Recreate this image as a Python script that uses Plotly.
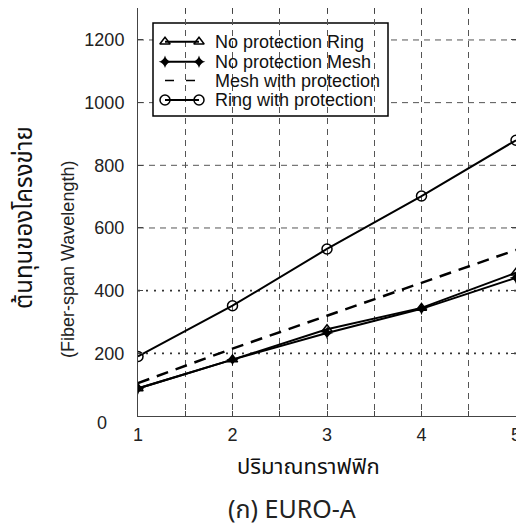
import plotly.graph_objects as go

# ---- data ----
traffic = [1, 2, 3, 4, 5]
no_prot_ring = [88, 180, 277, 345, 457]
no_prot_mesh = [88, 180, 265, 342, 441]
mesh_with_prot = [105, 215, 320, 425, 530]
ring_with_prot = [190, 352, 533, 702, 880]

x_tickvals = [1, 1.5, 2, 2.5, 3, 3.5, 4, 4.5, 5]
x_ticktext = ["1", "", "2", "", "3", "", "4", "", "5"]
y_tickvals = [0, 200, 400, 600, 800, 1000, 1200]
y_ticktext = ["0", "200", "400", "600", "800", "1000", "1200"]
dashed_levels = [600, 800, 1000, 1200]
dotted_levels = [200, 400]

legend_names = ["No protection Ring", "No protection Mesh",
                "Mesh with protection", "Ring with protection"]

FONT = "Liberation Sans, Arial, sans-serif"
THAI_FONT = "Tahoma, Noto Sans Thai, Loma, Garuda, sans-serif"

# page body has an 8px margin; figure is sized so it ends at the window edge
OFF = 8
W, H = 524 - OFF, 531 - OFF
# plot-area edges in window pixels
PX0, PX1, PY0, PY1 = 138, 516, 8, 416

def fx(px):
    return (px - PX0) / (PX1 - PX0)

def fy(py):
    return (PY1 - py) / (PY1 - PY0)

fig = go.Figure()

styles = [
    dict(line=dict(color="black", width=2), marker=dict(symbol="triangle-up-open", size=9, color="black", line=dict(width=1.5)), mode="lines+markers"),
    dict(line=dict(color="black", width=2), marker=dict(symbol="star-diamond", size=9, color="black"), mode="lines+markers"),
    dict(line=dict(color="black", width=2.5, dash="12px,8px"), mode="lines"),
    dict(line=dict(color="black", width=2), marker=dict(symbol="circle-open", size=10, color="black", line=dict(width=1.5)), mode="lines+markers"),
]
series = [no_prot_ring, no_prot_mesh, mesh_with_prot, ring_with_prot]

for name, vals, st in zip(legend_names, series, styles):
    fig.add_trace(go.Scatter(x=traffic, y=vals, name=name, showlegend=False, **st))

# ---- custom legend (markers at both ends of the sample line) ----
row_y = [41.7, 61.7, 80.5, 100]
for name, st, ry in zip(legend_names, styles, row_y):
    kw = dict(st)
    if name == "Mesh with protection":
        kw = dict(mode="lines", line=dict(color="black", width=1.5, dash="9px,12px"))
    fig.add_trace(go.Scatter(x=[fx(165), fx(199)], y=[fy(ry), fy(ry)], xaxis="x2", yaxis="y2",
                             showlegend=False, hoverinfo="skip", **kw))
    fig.add_annotation(x=fx(213), y=fy(ry), xref="paper", yref="paper", text=name,
                       showarrow=False, xanchor="left", yanchor="middle",
                       font=dict(family=FONT, size=18, color="#111"))

shapes = []
for lv in dashed_levels:
    shapes.append(dict(type="line", xref="paper", yref="y", x0=0, x1=1, y0=lv, y1=lv,
                       line=dict(color="#555", width=1, dash="6px,5px"), layer="between"))
for lv in dotted_levels:
    shapes.append(dict(type="line", xref="paper", yref="y", x0=0, x1=1, y0=lv, y1=lv,
                       line=dict(color="#333", width=1.8, dash="2px,6px"), layer="between"))
shapes.append(dict(type="rect", xref="paper", yref="paper", x0=fx(153), x1=fx(388), y0=fy(116), y1=fy(23),
                   fillcolor="white", line=dict(color="black", width=1.5), layer="between"))

# the "0" label sits further left in the reference; drawn separately
y_ticktext_axis = [""] + y_ticktext[1:]

fig.update_layout(
    width=W, height=H,
    margin=dict(l=PX0 - OFF, r=524 - PX1, t=PY0 - OFF, b=531 - PY1, pad=0),
    paper_bgcolor="white", plot_bgcolor="white",
    font=dict(family=FONT, size=18, color="#222"),
    shapes=shapes,
    xaxis=dict(range=[1, 5], tickvals=x_tickvals, ticktext=x_ticktext,
               showgrid=True, gridcolor="#555", gridwidth=1, griddash="6px,5px",
               ticks="inside", ticklen=5, tickcolor="#444",
               showline=True, linecolor="#444", linewidth=1, mirror="ticks",
               zeroline=False, tickfont=dict(size=18), ticklabelstandoff=2),
    yaxis=dict(range=[0, 1302], tickvals=y_tickvals, ticktext=y_ticktext_axis,
               showgrid=False, ticks="inside", ticklen=5, tickcolor="#444",
               showline=True, linecolor="#444", linewidth=1, mirror="ticks",
               zeroline=False, tickfont=dict(size=18), ticklabelstandoff=9),
    xaxis2=dict(range=[0, 1], overlaying="x", anchor="y2", visible=False),
    yaxis2=dict(range=[0, 1], overlaying="y", anchor="x2", visible=False),
)

# axis titles and caption (positions given in window pixels)
texts = [
    (y_ticktext[0], 102, 423, 0, dict(family=FONT, size=18, color="#222")),
    ("ปริมาณทราฟฟิก", 308, 467, 0, dict(family=THAI_FONT, size=22, color="#111")),
    ("(ก) EURO-A", 292, 510, 0, dict(family=THAI_FONT, size=25, color="#222")),
    ("ต้นทุนของโครงข่าย", 25, 218, -90, dict(family=THAI_FONT, size=24, color="#111")),
    ("(Fiber-span Wavelength)", 68, 260, -90, dict(family=FONT, size=18, color="#222")),
]
for t, px, py, ang, fnt in texts:
    fig.add_annotation(x=fx(px), y=fy(py), xref="paper", yref="paper", text=t,
                       showarrow=False, textangle=ang, xanchor="center", yanchor="middle",
                       font=fnt)

fig.write_html("out.html")
